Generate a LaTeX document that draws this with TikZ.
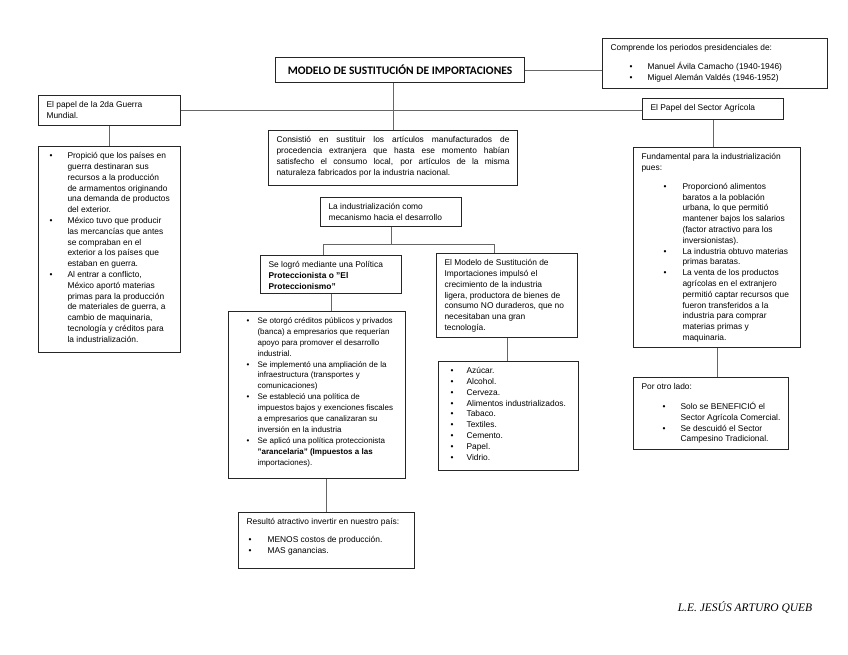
\documentclass[tikz,border=0pt]{standalone}
\usepackage{fontspec}
\setmainfont{Liberation Sans}
\newfontfamily\titulofont{Carlito}
\newfontfamily\firmafont{Liberation Serif}
\usetikzlibrary{positioning}
\newcommand{\cajatexto}[4][\raggedright]{\parbox[c][#3pt][t]{#2pt}{#1#4}}
\newenvironment{vinetas}[2]{%
  \begin{list}{\textbullet}{%
    \setlength{\leftmargin}{#2pt}\setlength{\labelwidth}{#2pt}%
    \setlength{\labelsep}{0pt}\setlength{\itemsep}{0pt}%
    \setlength{\parsep}{0pt}\setlength{\topsep}{0pt}%
    \setlength{\partopsep}{0pt}%
    \renewcommand{\makelabel}[1]{\hspace*{#1pt}##1\hfill}}}%
  {\end{list}}

\begin{document}
\begin{tikzpicture}[
    x=1pt,y=-1pt,
    font=\fontsize{8.4}{10.8}\selectfont,
    caja/.style={draw=black!85,line width=1.1pt,anchor=north west,inner xsep=8pt,inner ysep=6pt},
    conector/.style={draw=black!60,line width=0.8pt},
    ]
    \useasboundingbox (0,0) rectangle (848,655);

    \node[caja,inner sep=0pt,minimum width=249pt,minimum height=25pt,
      font=\fontsize{11.5}{13}\titulofont\bfseries] (titulo) at (275,57)
      {MODELO DE SUSTITUCIÓN DE IMPORTACIONES};
    \node[caja] (periodos) at (602,38) {\cajatexto{209}{38}{%
      Comprende los periodos presidenciales de:\par\vspace{8pt}
      \begin{vinetas}{19}{37}
      \item Manuel Ávila Camacho (1940-1946)
      \item Miguel Alemán Valdés (1946-1952)
      \end{vinetas}}};
    \node[caja] (guerra) at (38,95) {\cajatexto{126}{18}{El papel de la 2da Guerra\\ Mundial.}};
    \node[caja] (agricola) at (642,98) {\cajatexto{125}{9}{El Papel del Sector Agrícola}};

    \node[caja] (guerralista) at (38,146) {\cajatexto{126}{194}{%
      \begin{vinetas}{3}{21}
      \item Propició que los países en\\ guerra destinaran sus\\ recursos a la producción\\
        de armamentos originando\\ una demanda de productos\\ del exterior.
      \item México tuvo que producir\\ las mercancías que antes\\ se compraban en el\\
        exterior a los países que\\ estaban en guerra.
      \item Al entrar a conflicto,\\ México aportó materias\\ primas para la producción\\
        de materiales de guerra, a\\ cambio de maquinaria,\\ tecnología y créditos para\\
        la industrialización.
      \end{vinetas}}};

    \node[caja] (consiste) at (268,130) {\cajatexto[\relax]{233}{43}{%
      Consistió en sustituir los artículos manufacturados de\linebreak
      procedencia extranjera que hasta ese momento habían\linebreak
      satisfecho el consumo local, por artículos de la misma\linebreak
      naturaleza fabricados por la industria nacional.}};
    \node[caja] (industria) at (320,197) {\cajatexto{125}{17}{La industrialización como\\ mecanismo hacia el desarrollo}};

    \node[caja] (selogro) at (260,255) {\cajatexto{125}{26}{Se logró mediante una Política\\
      \textbf{Proteccionista o "El\\ Proteccionismo"}}};
    \node[caja] (modelo) at (436,253) {\cajatexto{125}{72}{El Modelo de Sustitución de\\
      Importaciones impulsó el\\ crecimiento de la industria\\ ligera, productora de bienes de\\
      consumo NO duraderos, que no\\ necesitaban una gran\\ tecnología.}};

    \node[caja,font=\fontsize{8}{10.9}\selectfont] (politicas) at (228,311) {\cajatexto{161}{155}{%
      \begin{vinetas}{10}{21}
      \item Se otorgó créditos públicos y privados\\ (banca) a empresarios que requerían\\
        apoyo para promover el desarrollo\\ industrial.
      \item Se implementó una ampliación de la\\ infraestructura (transportes y\\ comunicaciones)
      \item Se estableció una política de\\ impuestos bajos y exenciones fiscales\\
        a empresarios que canalizaran su\\ inversión en la industria
      \item Se aplicó una política proteccionista\\ \textbf{"arancelaria" (Impuestos a las}\\
        importaciones).
      \end{vinetas}}};
    \node[caja] (productos) at (438,361) {\cajatexto{124}{97}{%
      \begin{vinetas}{4}{20}
      \item Azúcar.
      \item Alcohol.
      \item Cerveza.
      \item Alimentos industrializados.
      \item Tabaco.
      \item Textiles.
      \item Cemento.
      \item Papel.
      \item Vidrio.
      \end{vinetas}}};
    \node[caja] (resultado) at (238,512) {\cajatexto{160}{44}{%
      Resultó atractivo invertir en nuestro país:\par\vspace{7pt}
      \begin{vinetas}{2}{21}
      \item MENOS costos de producción.
      \item MAS ganancias.
      \end{vinetas}}};

    \node[caja] (fundamental) at (633,147) {\cajatexto{151}{188}{%
      Fundamental para la industrialización\\ pues:\par\vspace{8pt}
      \begin{vinetas}{22}{41}
      \item Proporcionó alimentos\\ baratos a la población\\ urbana, lo que permitió\\
        mantener bajos los salarios\\ (factor atractivo para los\\ inversionistas).
      \item La industria obtuvo materias\\ primas baratas.
      \item La venta de los productos\\ agrícolas en el extranjero\\ permitió captar recursos que\\
        fueron transferidos a la\\ industria para comprar\\ materias primas y\\ maquinaria.
      \end{vinetas}}};
    \node[caja] (otrolado) at (633,377) {\cajatexto{139}{60}{%
      Por otro lado:\par\vspace{9pt}
      \begin{vinetas}{21}{39}
      \item Solo se BENEFICIÓ el\\ Sector Agrícola Comercial.
      \item Se descuidó el Sector\\ Campesino Tradicional.
      \end{vinetas}}};

    \node[font=\fontsize{11.5}{13}\firmafont\itshape] (firma) at (745,607) {L.E. JESÚS ARTURO QUEB};

    % conectores
    \draw[conector] (titulo.east) -- (titulo.east -| periodos.west);
    \draw[conector] (guerra.east) -- (guerra.east -| agricola.west);
    \draw[conector] (consiste.north) -- (consiste.north |- titulo.south);
    \draw[conector] (guerra.south) -- (guerralista.north);
    \draw[conector] (agricola.south) -- (agricola.south |- fundamental.north);
    \draw[conector] (fundamental.south) -- (fundamental.south |- otrolado.north);
    \coordinate (cruce) at ([yshift=-17pt]industria.south);
    \draw[conector] (industria.south) -- (cruce);
    \draw[conector] ([xshift=-8pt]selogro.north) |- (cruce) -| ([xshift=-13pt]modelo.north);
    \draw[conector] (selogro.south) -- (selogro.south |- politicas.north);
    \draw[conector] (resultado.north) -- (resultado.north |- politicas.south);
    \draw[conector] (modelo.south) -- (modelo.south |- productos.north);
\end{tikzpicture}
\end{document}
